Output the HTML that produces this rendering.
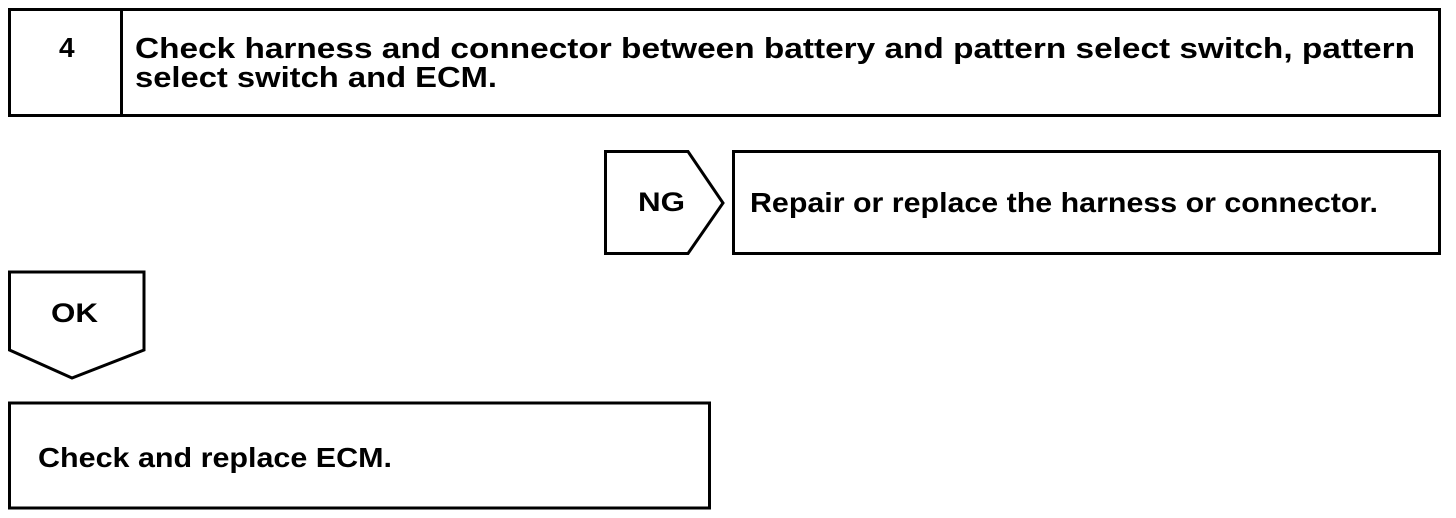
<!DOCTYPE html>
<html><head><meta charset="utf-8"><style>
html,body{margin:0;padding:0;background:#fff;}
svg{display:block;}
text{font-family:"Liberation Sans",Arial,sans-serif;font-weight:bold;fill:#000;}
</style></head><body>
<svg width="1456" height="518" viewBox="0 0 1456 518" xmlns="http://www.w3.org/2000/svg">
<g fill="none" stroke="#000" stroke-width="3">
<rect x="9.5" y="9.5" width="1430" height="106"/>
<line x1="121.5" y1="9.5" x2="121.5" y2="115.5"/>
<polygon points="605.5,151.5 688,151.5 723,203 688,253.5 605.5,253.5"/>
<rect x="733.5" y="151.5" width="706" height="102"/>
<polygon points="9.5,272 144,272 144,350 72,378 9.5,350"/>
<rect x="9.5" y="403" width="700" height="105"/>
</g>
<text x="59" y="57" font-size="28">4</text>
<text x="135" y="58" font-size="29" textLength="1280" lengthAdjust="spacingAndGlyphs">Check harness and connector between battery and pattern select switch, pattern</text>
<text x="135" y="87" font-size="29" textLength="362" lengthAdjust="spacingAndGlyphs">select switch and ECM.</text>
<text x="638" y="211" font-size="27" textLength="47" lengthAdjust="spacingAndGlyphs">NG</text>
<text x="750" y="212" font-size="28" textLength="628" lengthAdjust="spacingAndGlyphs">Repair or replace the harness or connector.</text>
<text x="51" y="322" font-size="27" textLength="47" lengthAdjust="spacingAndGlyphs">OK</text>
<text x="38" y="467" font-size="28" textLength="354" lengthAdjust="spacingAndGlyphs">Check and replace ECM.</text>
</svg>
</body></html>
